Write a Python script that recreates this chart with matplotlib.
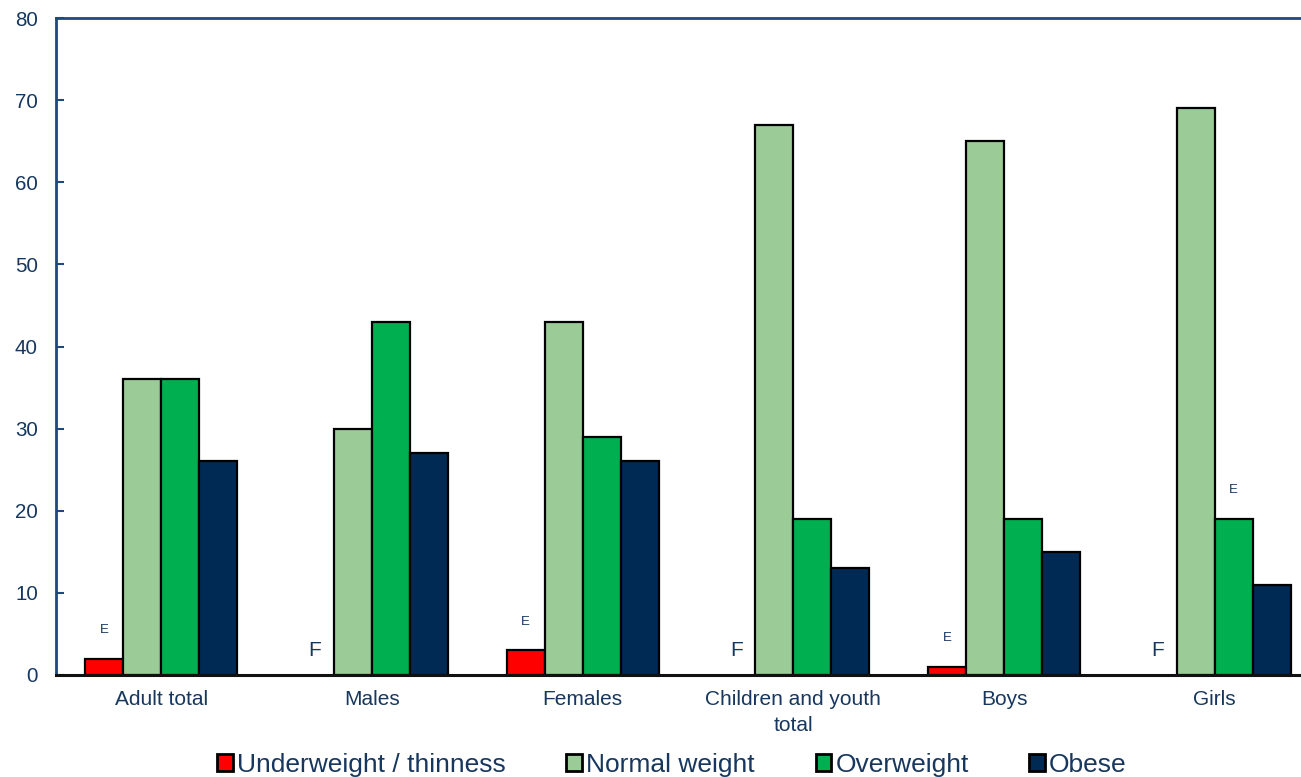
import matplotlib
matplotlib.use("Agg")
import matplotlib.pyplot as plt
import numpy as np

plt.rcParams['font.family'] = ['Liberation Sans', 'DejaVu Sans']

categories = ["Adult total", "Males", "Females", "Children and youth\ntotal", "Boys", "Girls"]
series_names = ["Underweight / thinness", "Normal weight", "Overweight", "Obese"]
# None = value suppressed (flag F)
underweight = [2, None, 3, None, 1, None]
normal_weight = [36, 30, 43, 67, 65, 69]
overweight = [36, 43, 29, 19, 19, 19]
obese = [26, 27, 26, 13, 15, 11]
# quality flags: (series index, category index, flag)
flags = [(0, 0, "E"), (0, 1, "F"), (0, 2, "E"), (0, 3, "F"), (0, 4, "E"), (0, 5, "F"), (2, 5, "E")]

colors = ["#FF0000", "#9BCC98", "#00B050", "#002A54"]
text_col = "#17375E"
spine_col = "#1F497D"

fig = plt.figure(figsize=(13.01, 7.77), dpi=100)
ax = fig.add_axes([0.043, 0.1313, 0.9717, 0.8455])

x = np.arange(len(categories))
w = 0.18
offsets = [-1.5 * w, -0.5 * w, 0.5 * w, 1.5 * w]
series = [underweight, normal_weight, overweight, obese]

for vals, off, col, name in zip(series, offsets, colors, series_names):
    xs = [xi + off for xi, v in zip(x, vals) if v is not None]
    hs = [v for v in vals if v is not None]
    ax.bar(xs, hs, width=w, color=col, edgecolor="black", linewidth=1.6,
           label=name, zorder=3)

for si, ci, flag in flags:
    val = series[si][ci]
    xpos = x[ci] + offsets[si]
    if flag == "E":
        ax.text(xpos, val + 3.5, "E", ha="center", va="center",
                fontsize=9.5, color=text_col)
    else:
        ax.text(xpos, 3, "F", ha="center", va="center",
                fontsize=15, color=text_col)

ax.set_xlim(-0.5, len(categories) - 0.5)
ax.set_ylim(0, 80)
ax.set_yticks(range(0, 81, 10))
ax.set_xticks(x)
ax.set_xticklabels(categories, fontsize=15, color=text_col, linespacing=1.45)
ax.tick_params(axis="y", direction="in", length=6, width=1.5, color=spine_col,
               labelsize=14.8, labelcolor=text_col, pad=13)
ax.tick_params(axis="x", length=0, pad=11)

for s in ["left", "top"]:
    ax.spines[s].set_color(spine_col)
    ax.spines[s].set_linewidth(2)
ax.spines["right"].set_visible(False)
ax.spines["bottom"].set_color("#111111")
ax.spines["bottom"].set_linewidth(2.2)
ax.spines["bottom"].set_zorder(4)

leg = fig.legend(loc="center", bbox_to_anchor=(672 / 1301, 0.016), ncol=4,
                 frameon=False, fontsize=19, handlelength=0.6, handleheight=0.6,
                 handletextpad=0.15, columnspacing=2.3, borderaxespad=0)
for t in leg.get_texts():
    t.set_color(text_col)
for p in leg.get_patches():
    p.set_linewidth(2)

fig.savefig("out.png", dpi=100)
